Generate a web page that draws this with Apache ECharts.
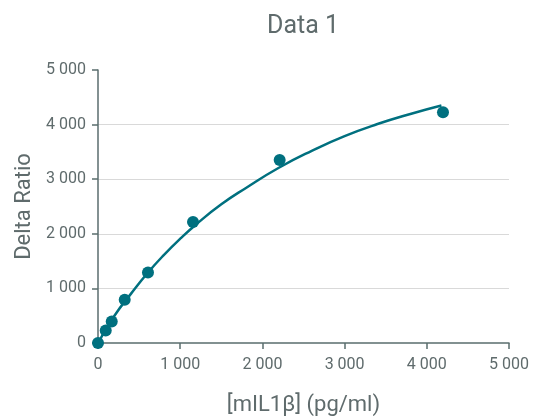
<!DOCTYPE html>
<html>
<head>
<meta charset="utf-8">
<script src="https://cdn.jsdelivr.net/npm/echarts@6/dist/echarts.min.js"></script>
<style>html,body{margin:0;padding:0;background:#fff}#c{width:533px;height:416px}</style>
</head>
<body>
<div id="c"></div>
<script>
const titleText = "Data 1";
const xName = "[mIL1β] (pg/ml)";
const yName = "Delta Ratio";
// measured points [concentration, delta ratio]
const pointsX = [0, 94, 167, 325, 608, 1156, 2210, 4197];
const pointsY = [0, 230, 395, 792, 1290, 2215, 3352, 4225];
// fitted curve
const curveX = [0, 200, 400, 608, 800, 1000, 1200, 1500, 1800, 2200, 2600, 3000, 3400, 3800, 4178];
const curveY = [0, 500, 900, 1290, 1610, 1910, 2180, 2540, 2840, 3210, 3520, 3790, 4010, 4195, 4350];

const fmt = v => String(v).replace(/\B(?=(\d{3})+(?!\d))/g, ' ');
const teal = '#00707f';
const textCol = '#5f6b6c';
const axisCol = '#5a6d6e';

const chart = echarts.init(document.getElementById('c'), null, {renderer: 'canvas'});
chart.setOption({
  animation: false,
  backgroundColor: '#fff',
  title: {
    text: titleText, left: 298, top: 9, textAlign: 'center',
    textStyle: {fontFamily: 'Roboto', fontSize: 25, fontWeight: 'normal', color: textCol}
  },
  grid: {left: 98, right: 24, top: 70, bottom: 73, containLabel: false, outerBoundsMode: 'none'},
  xAxis: {
    type: 'value', min: 0, max: 5000, interval: 1000,
    name: xName, nameLocation: 'middle', nameGap: 51,
    nameTextStyle: {fontFamily: 'Roboto', fontSize: 22, color: textCol},
    axisLine: {show: true, lineStyle: {color: axisCol, width: 1.5}},
    axisTick: {show: true, length: 6, lineStyle: {color: axisCol, width: 1.5}},
    axisLabel: {fontFamily: 'Roboto', fontSize: 16, color: textCol, margin: 14, formatter: fmt},
    splitLine: {show: false}
  },
  yAxis: {
    type: 'value', min: 0, max: 5000, interval: 1000,
    name: yName, nameLocation: 'middle', nameGap: 61, nameRotate: 90,
    nameTextStyle: {fontFamily: 'Roboto', fontSize: 22, color: textCol},
    axisLine: {show: true, lineStyle: {color: axisCol, width: 1.5}},
    axisTick: {show: true, length: 6, lineStyle: {color: axisCol, width: 1.5}},
    axisLabel: {fontFamily: 'Roboto', fontSize: 16, color: textCol, margin: 12, formatter: fmt},
    splitLine: {show: true, showMinLine: false, showMaxLine: false, lineStyle: {color: '#d9d9d9', width: 1}}
  },
  series: [
    {
      type: 'line', smooth: 0.5, showSymbol: false, symbol: 'none',
      data: curveX.map((x, i) => [x, curveY[i]]),
      lineStyle: {color: teal, width: 2.5}, z: 2
    },
    {
      type: 'scatter', symbolSize: 12,
      data: pointsX.map((x, i) => [x, pointsY[i]]),
      itemStyle: {color: teal, opacity: 1}, z: 3
    }
  ]
});
</script>
</body>
</html>
